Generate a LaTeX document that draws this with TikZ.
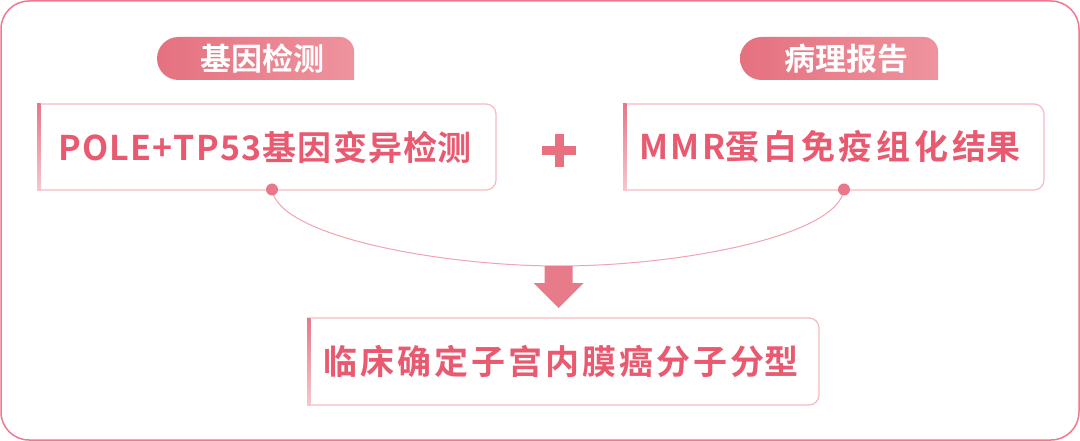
\documentclass[tikz,border=0pt]{standalone}
\usepackage{fontspec}
\setmainfont{Noto Sans CJK SC}[BoldFont={* Bold}]
\definecolor{framec}{HTML}{EF7A90}
\definecolor{textc}{HTML}{E95A70}
\definecolor{tagL}{HTML}{E5717F}
\definecolor{tagR}{HTML}{EE939E}
\definecolor{barT}{HTML}{E87789}
\definecolor{barB}{HTML}{F7C6CE}
\definecolor{borderc}{HTML}{F6BAC4}
\definecolor{dotc}{HTML}{E8788A}
\definecolor{curvec}{HTML}{F2A3B1}
\definecolor{arrowc}{HTML}{E87B89}
\definecolor{plusc}{HTML}{E9717F}
\tikzset{
  boxline/.style={draw=borderc, line width=1.2pt},
  leftbar/.style={top color=barT, bottom color=barB},
  tagfill/.style={left color=tagL, right color=tagR},
  tagtxt/.style={text=white, inner sep=0pt, font=\bfseries\fontsize{31}{31}\selectfont},
  boxtxt/.style={text=textc, inner sep=0pt, font=\bfseries\fontsize{34}{34}\selectfont},
  dotmark/.style={circle, fill=dotc, minimum size=12pt, inner sep=0pt},
}
\begin{document}
\begin{tikzpicture}[x=1pt,y=-1pt]
\useasboundingbox (0,0) rectangle (1080,441);
\fill[white] (0,0) rectangle (1080,441);
\draw[framec, line width=1.5pt, rounded corners=28pt] (1,1) rectangle (1079,440);

% tags
\shade[tagfill] (178.5,37) -- (340,37) arc[start angle=-90,end angle=0,radius=14] -- (354,80) -- (178.5,80) arc[start angle=90,end angle=270,radius=21.5] -- cycle;
\node[tagtxt] (tag1) at (262,58.5) {基因检测};
\shade[tagfill] (761.5,37) -- (924,37) arc[start angle=-90,end angle=0,radius=14] -- (938,80) -- (761.5,80) arc[start angle=90,end angle=270,radius=21.5] -- cycle;
\node[tagtxt] (tag2) at (846,58.5) {病理报告};

% box 1
\draw[boxline] (37,104) -- (486,104) arc[start angle=-90,end angle=0,radius=10] -- (496,180) arc[start angle=0,end angle=90,radius=10] -- (37,190);
\shade[leftbar] (37,104) rectangle (40.5,190.5);
\node[boxtxt] (t1) at (265,147) {{\addfontfeatures{LetterSpace=3.5}POLE+TP53基因变异检}测};

% box 2
\draw[boxline] (623,104) -- (1034,104) arc[start angle=-90,end angle=0,radius=10] -- (1044,180) arc[start angle=0,end angle=90,radius=10] -- (623,190);
\shade[leftbar] (623,104) rectangle (626.5,190.5);
\node[boxtxt] (t2) at (830,147) {{\addfontfeatures{LetterSpace=7}MMR}{\addfontfeatures{LetterSpace=11.5}蛋白免疫组化结}果};

% plus
\fill[plusc] (554.5,134) rectangle (563.5,167);
\fill[plusc] (542,146) rectangle (576,155);

% connector
\coordinate (c1) at (272,189.5);
\coordinate (c2) at (844,189.5);
\coordinate (m) at (559,266);
\draw[curvec, line width=1pt] (c1) .. controls (278,236) and (440,266) .. (m) .. controls (680,266) and (838,236) .. (c2);
\node[dotmark] (d1) at (c1) {};
\node[dotmark] (d2) at (c2) {};

% arrow
\fill[arrowc] (544.5,266) -- (572.5,266) -- (572.5,283) -- (583.5,283) -- (558.5,308) -- (533.5,283) -- (544.5,283) -- cycle;

% box 3
\draw[boxline] (307,318) -- (809,318) arc[start angle=-90,end angle=0,radius=10] -- (819,395) arc[start angle=0,end angle=90,radius=10] -- (307,405);
\shade[leftbar] (307,318) rectangle (310.5,405.5);
\node[boxtxt] (t3) at (561,361.5) {{\addfontfeatures{LetterSpace=9}临床确定子宫内膜癌分子分}型};
\end{tikzpicture}
\end{document}
